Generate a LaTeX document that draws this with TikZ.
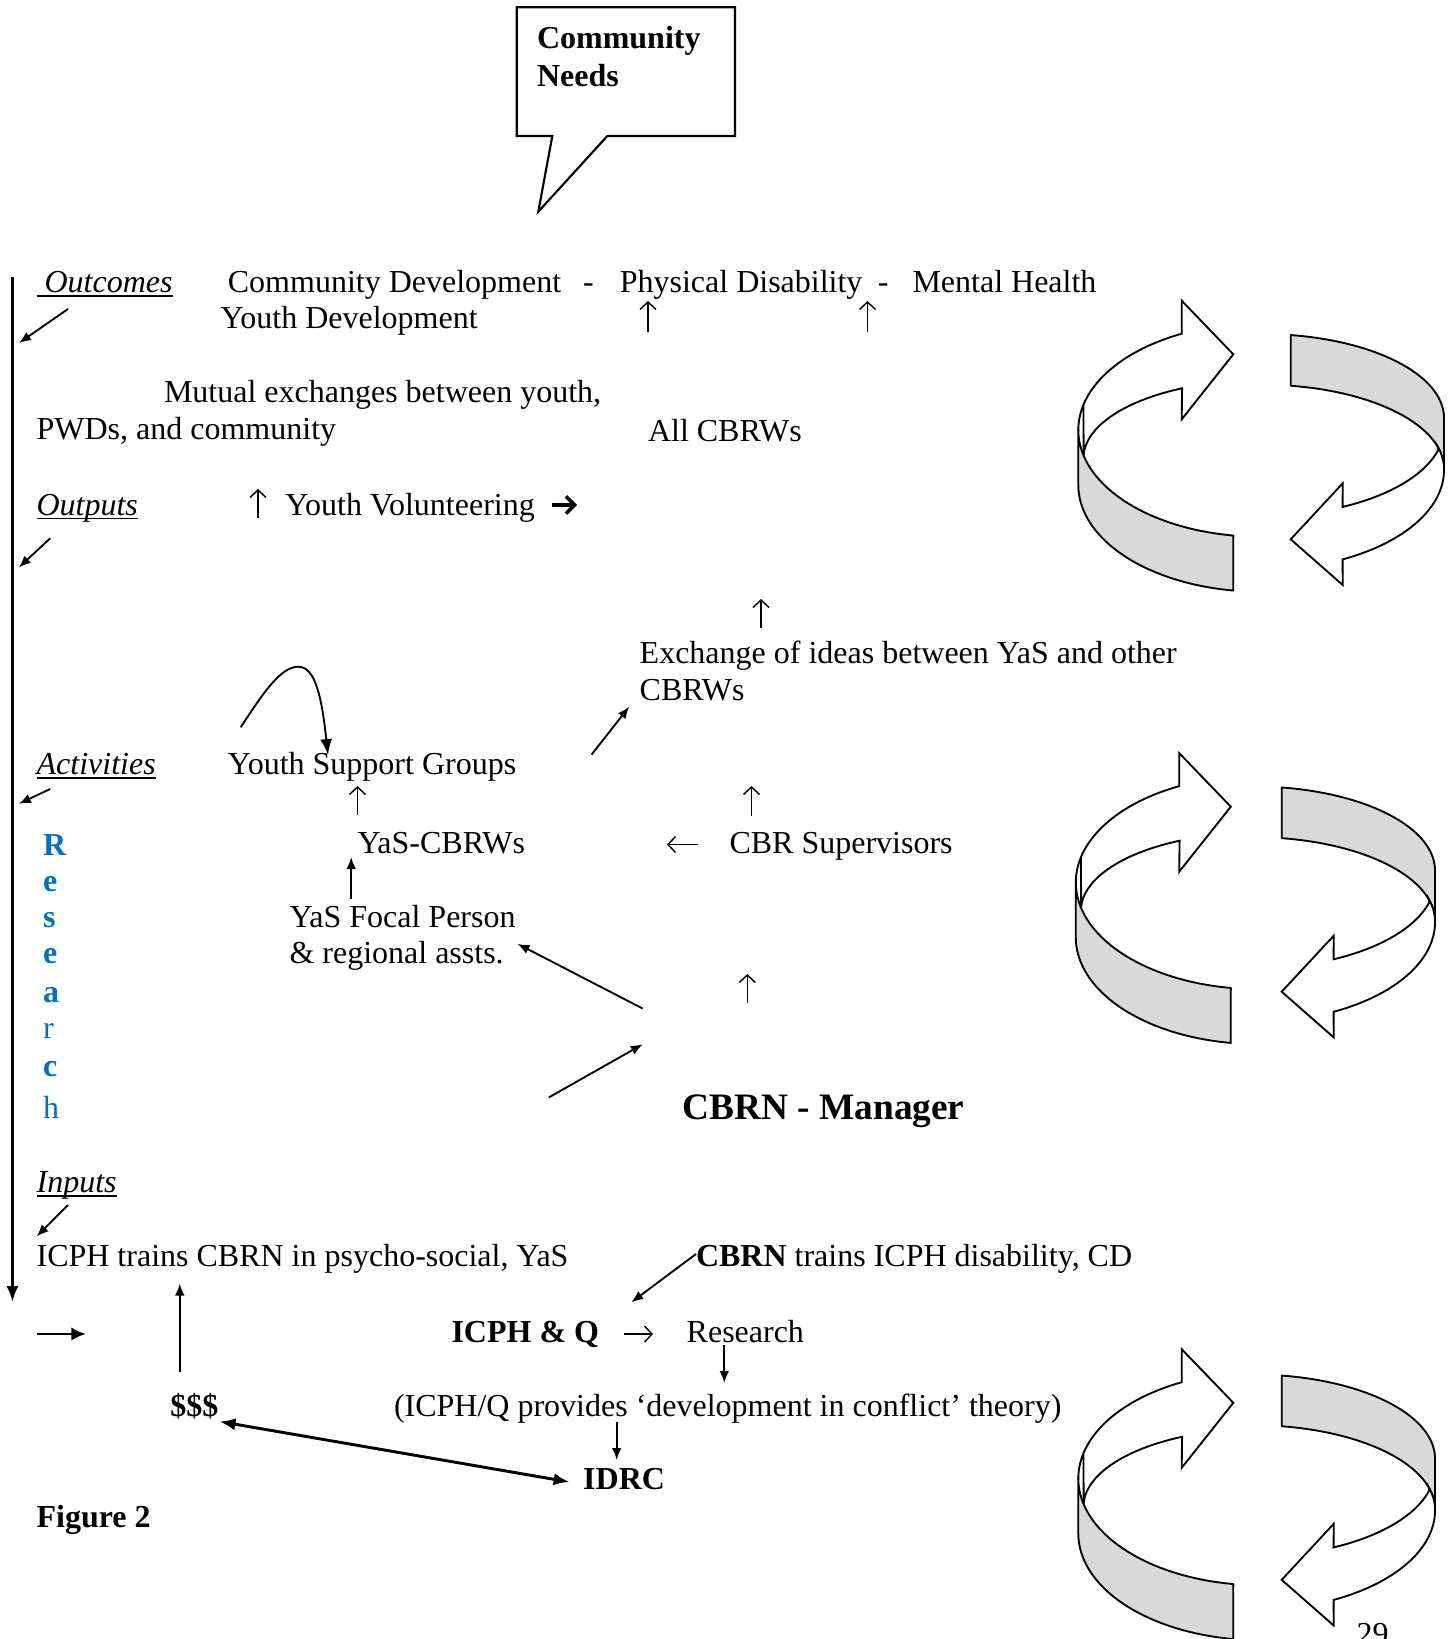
\documentclass[tikz,border=0pt]{standalone}
\usepackage{fontspec}
\setmainfont{Liberation Serif}
\usetikzlibrary{arrows.meta}
\definecolor{resblue}{HTML}{0070C0}
\definecolor{bandgray}{HTML}{D9D9D9}
\newcommand\myul[1]{\setbox0\hbox{#1}\rlap{\rule[-1.6pt]{\wd0}{0.5pt}}\box0}
\tikzset{
  txt/.style={inner sep=0pt, outer sep=0pt, anchor=base west, font=\fontsize{12}{14}\selectfont},
  ctxt/.style={txt, anchor=base},
  btxt/.style={txt, font=\fontsize{12}{14}\selectfont\bfseries},
  rtxt/.style={txt, text=resblue},
  conn/.style={line width=0.7pt, -{Latex[length=4.5pt,width=3.6pt]}},
  glypharrow/.style={line width=0.55pt, -{Straight Barb[length=2.8pt,width=6pt]}},
  band/.style={fill=bandgray, draw=black, line width=0.7pt, line join=round},
  wband/.style={fill=white, draw=black, line width=0.7pt, line join=miter},
}
% three-dimensional circular arrow pair: #1 x-origin, #2 y-origin, #3 x-shift of right piece, #4 y-shift of right piece
\newcommand\cyclearrow[4]{%
\begin{scope}[shift={(#1,#2)}]
 \filldraw[band] plot[variable=\ang,domain=98.45:180,samples=40] ({200+181.7*cos(\ang)},{140+106.7*sin(\ang)})
   -- plot[variable=\ang,domain=180:98.45,samples=40] ({200+181.7*cos(\ang)},{195+106.7*sin(\ang)}) -- cycle;
 \filldraw[wband] plot[variable=\ang,domain=180:244.5,samples=40] ({200+181.7*cos(\ang)},{140+106.7*sin(\ang)})
   -- (121.7,10.7) -- (173.3,64.3) -- (121.7,129.3)
   -- plot[variable=\ang,domain=243.8:182,samples=40] ({200+176.5*cos(\ang)},{168+77.7*sin(\ang)})
   -- plot[variable=\ang,domain=193.7:180,samples=10] ({200+181.7*cos(\ang)},{140+106.7*sin(\ang)}) -- cycle;
 \begin{scope}[shift={(#3,#4)}]
 \filldraw[band] plot[variable=\ang,domain=279.1:360,samples=40] ({202+182*cos(\ang)},{128+84*sin(\ang)})
   -- plot[variable=\ang,domain=360:279.1,samples=40] ({202+182*cos(\ang)},{178.7+84*sin(\ang)}) -- cycle;
 \filldraw[wband] plot[variable=\ang,domain=14.4:63.7,samples=40] ({202+182*cos(\ang)},{138+88*sin(\ang)})
   -- (282.7,193.3) -- (230.7,249.3) -- (282.7,295)
   -- plot[variable=\ang,domain=63.7:0,samples=40] ({202+182*cos(\ang)},{180+99.7*sin(\ang)})
   -- plot[variable=\ang,domain=360:345,samples=10] ({202+182*cos(\ang)},{178.7+84*sin(\ang)}) -- cycle;
 \end{scope}
\end{scope}}
\begin{document}
\begin{tikzpicture}[x=0.375pt,y=-0.375pt]
\useasboundingbox (0,0) rectangle (1456,1639);
\clip (0,0) rectangle (1456,1639);

% speech bubble
\draw[line width=0.8pt, line join=miter] (516.7,7.3) -- (735,7.3) -- (735,136) -- (607.3,136)
  -- (538.3,211.7) -- (552.3,136) -- (516.7,136) -- cycle;
\node[btxt] (needsA) at (537,48) {Community};
\node[btxt] (needsB) at (537,86) {Needs};

% left vertical arrow
\coordinate (vtop) at (12.5,277);
\coordinate (vbot) at (12.5,1302);
\draw[line width=1.1pt, -{Latex[length=6pt,width=4.6pt]}] (vtop) -- (vbot);

% Outcomes
\node[txt] (outcomes) at (36.6,292.5) {\myul{\ \textit{Outcomes}}};
\node[txt] (commdev) at (227.9,292.5) {Community Development};
\node[ctxt] (dashA) at (588.4,292.5) {-};
\node[txt] (physdis) at (619.8,292.5) {Physical Disability};
\node[ctxt] (dashB) at (883.2,292.5) {-};
\node[txt] (mental) at (912.5,292.5) {Mental Health};
\node[txt] (youthdev) at (220.5,328) {Youth Development};
\coordinate (uAa) at (648,332); \coordinate (uAb) at (648,301);
\draw[glypharrow] (uAa) -- (uAb);
\coordinate (uBa) at (867.5,332); \coordinate (uBb) at (867.5,301);
\draw[glypharrow] (uBa) -- (uBb);
\coordinate (oA) at (68,309);
\coordinate (oB) at (19,343);
\draw[conn] (oA) -- (oB);

\node[txt] (mutual) at (164,402.5) {Mutual exchanges between youth,};
\node[txt] (pwds) at (36.6,439) {PWDs, and community};
\node[txt] (allcbrw) at (648,441) {All CBRWs};

% Outputs
\node[txt] (outputs) at (36.6,515) {\myul{\textit{Outputs}}};
\coordinate (pA) at (50.2,538.3);
\coordinate (pB) at (18.8,567.5);
\draw[conn] (pA) -- (pB);
\coordinate (uCa) at (258,518); \coordinate (uCb) at (258,489);
\draw[glypharrow] (uCa) -- (uCb);
\node[txt] (volunteer) at (285.3,515) {Youth Volunteering};
\coordinate (vA) at (552,505);
\coordinate (vB) at (577,505);
\draw[line width=1.3pt, -{Straight Barb[length=3.2pt,width=6.5pt]}] (vA) -- (vB);

% Exchange of ideas
\coordinate (uDa) at (761,628); \coordinate (uDb) at (761,599);
\draw[glypharrow] (uDa) -- (uDb);
\node[txt] (exchA) at (639.7,663.5) {Exchange of ideas between YaS and other};
\node[txt] (exchB) at (639.7,700) {CBRWs};
\coordinate (eA) at (591.6,754.6);
\coordinate (eB) at (629.2,706.6);
\draw[conn] (eA) -- (eB);

% Activities
\node[txt] (activities) at (36.6,774.5) {\myul{\textit{Activities}}};
\coordinate (aA) at (50.2,789);
\coordinate (aB) at (18.8,803.8);
\draw[conn] (aA) -- (aB);
\node[txt] (ysg) at (227.9,774.5) {Youth Support Groups};
\coordinate (cA) at (240.7,727.3);
\coordinate (cP) at (298.3,666.7);
\coordinate (cB) at (328,755);
\draw[line width=0.7pt, -{Latex[length=6pt,width=4.5pt]}] (cA) .. controls (262,695) and (280,666.7) .. (cP) .. controls (316,666.7) and (322,700) .. (cB);
\coordinate (uEa) at (357.5,815); \coordinate (uEb) at (357.5,786);
\draw[glypharrow] (uEa) -- (uEb);
\node[txt] (yascbrw) at (357.5,853) {YaS-CBRWs};
\coordinate (fA) at (351.2,899);
\coordinate (fB) at (351.2,857);
\draw[conn] (fA) -- (fB);
\node[txt] (focalA) at (289.5,927) {YaS Focal Person};
\node[txt] (focalB) at (289.5,963.5) {\& regional assts.};
\coordinate (mA) at (642.8,1008.6);
\coordinate (mB) at (517.4,943.8);
\draw[conn] (mA) -- (mB);
\coordinate (nA) at (548.7,1097.5);
\coordinate (nB) at (642.8,1044.2);
\draw[conn] (nA) -- (nB);
\coordinate (lAa) at (698,844.5); \coordinate (lAb) at (667,844.5);
\draw[glypharrow] (lAa) -- (lAb);
\node[txt] (cbrsup) at (729.5,853) {CBR Supervisors};
\coordinate (uFa) at (751.5,816); \coordinate (uFb) at (751.5,786);
\draw[glypharrow] (uFa) -- (uFb);
\coordinate (uGa) at (747.3,1003); \coordinate (uGb) at (747.3,974);
\draw[glypharrow] (uGa) -- (uGb);
\node[txt, font=\fontsize{14}{16}\selectfont\bfseries] (manager) at (682.5,1119) {CBRN - Manager};

% Research (vertical)
\node[rtxt, font=\fontsize{12}{14}\selectfont\bfseries] (rR) at (43,855) {R};
\node[rtxt, font=\fontsize{12}{14}\selectfont\bfseries] (rE1) at (43,891) {e};
\node[rtxt, font=\fontsize{12}{14}\selectfont\bfseries] (rS) at (43,927) {s};
\node[rtxt, font=\fontsize{12}{14}\selectfont\bfseries] (rE2) at (43,963) {e};
\node[rtxt, font=\fontsize{12}{14}\selectfont\bfseries] (rA) at (43,1002) {a};
\node[rtxt] (rRr) at (43,1038) {r};
\node[rtxt, font=\fontsize{12}{14}\selectfont\bfseries] (rC) at (43,1076) {c};
\node[rtxt] (rH) at (43,1118) {h};

% Inputs
\node[txt] (inputs) at (36.6,1192.5) {\myul{\textit{Inputs}}};
\coordinate (iA) at (68,1205);
\coordinate (iB) at (36.6,1236.5);
\draw[conn] (iA) -- (iB);
\node[txt] (icphtrains) at (36.6,1266) {ICPH trains CBRN in psycho-social, YaS};
\node[txt] (cbrntrains) at (696,1266) {\textbf{CBRN} trains ICPH disability, CD};
\coordinate (kA) at (696,1254);
\coordinate (kB) at (631.3,1302.3);
\draw[conn] (kA) -- (kB);
\coordinate (tA) at (36.6,1334);
\coordinate (tB) at (86,1334);
\draw[line width=1.1pt, -{Latex[length=5.5pt,width=5pt]}] (tA) -- (tB);
\coordinate (dA) at (179.8,1372.3);
\coordinate (dB) at (179.8,1283.5);
\draw[conn] (dA) -- (dB);
\node[btxt] (icphq) at (451.5,1342) {ICPH \& Q};
\coordinate (rAa) at (624,1334); \coordinate (rAb) at (653,1334);
\draw[glypharrow] (rAa) -- (rAb);
\node[txt] (research) at (686.7,1342) {Research};
\coordinate (rsA) at (724.3,1345.2);
\coordinate (rsB) at (724.3,1383);
\draw[conn] (rsA) -- (rsB);
\node[btxt] (dollars) at (170.4,1416) {\$\$\$};
\node[txt] (theory) at (394,1416) {(ICPH/Q provides ‘development in conflict’ theory)};
\coordinate (thA) at (616.7,1421.5);
\coordinate (thB) at (616.7,1460);
\draw[conn] (thA) -- (thB);
\node[btxt] (idrc) at (583.2,1489.5) {IDRC};
\coordinate (xA) at (219.5,1421.5);
\coordinate (xB) at (569.6,1482);
\draw[line width=1.1pt, {Latex[length=6pt,width=4.6pt]}-{Latex[length=6pt,width=4.6pt]}] (xA) -- (xB);
\node[btxt] (fig) at (36.6,1527) {Figure 2};
\node[txt] (pagenum) at (1356.7,1644) {29};

% circular arrows
\cyclearrow{1060}{290}{0}{0}
\cyclearrow{1057.5}{742.4}{-6.5}{0}
\cyclearrow{1060}{1338.5}{-9}{-8}
\end{tikzpicture}
\end{document}
